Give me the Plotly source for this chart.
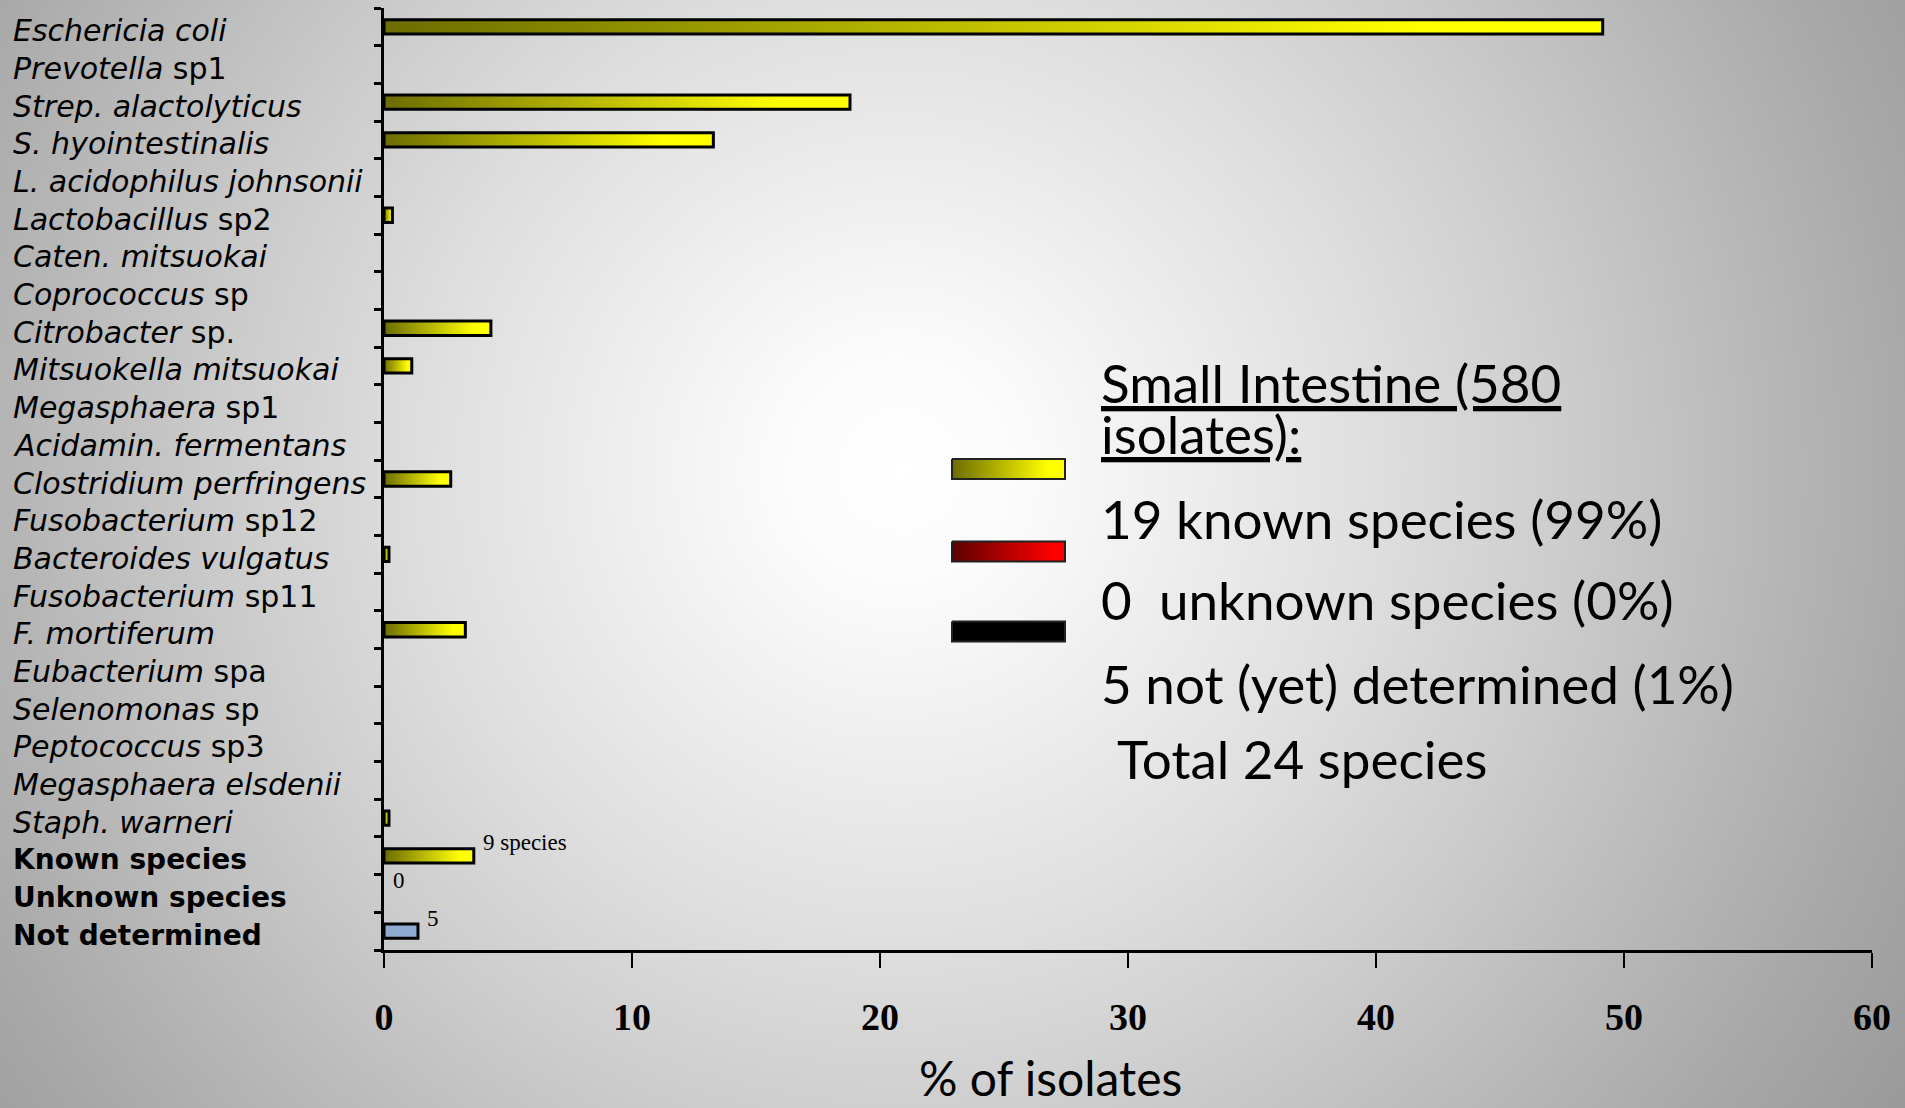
import base64
import plotly.graph_objects as go

# ---- data -----------------------------------------------------------------
species_labels = [
    "<i>Eschericia coli</i>", "<i>Prevotella</i> sp1", "<i>Strep. alactolyticus</i>",
    "<i>S. hyointestinalis</i>", "<i>L. acidophilus johnsonii</i>", "<i>Lactobacillus</i> sp2",
    "<i>Caten. mitsuokai</i>", "<i>Coprococcus</i> sp", "<i>Citrobacter</i> sp.",
    "<i>Mitsuokella mitsuokai</i>", "<i>Megasphaera</i> sp1", "<i>Acidamin. fermentans</i>",
    "<i>Clostridium perfringens</i>", "<i>Fusobacterium</i> sp12", "<i>Bacteroides vulgatus</i>",
    "<i>Fusobacterium</i> sp11", "<i>F. mortiferum</i>", "<i>Eubacterium</i> spa",
    "<i>Selenomonas</i> sp", "<i>Peptococcus</i> sp3", "<i>Megasphaera elsdenii</i>",
    "<i>Staph. warneri</i>",
]
species_pct = [49.14, 0, 18.79, 13.28, 0, 0.34, 0, 0, 4.31, 1.12, 0, 0,
               2.69, 0, 0.2, 0, 3.28, 0, 0, 0, 0, 0.2]

summary_labels = ["<b>Known species</b>", "<b>Unknown species</b>", "<b>Not determined</b>"]
summary_pct = [3.62, 0, 1.37]
summary_text = ["9 species", "0", "5"]

legend_title = ["<u>Small Intestine (580</u>", "<u>isolates):</u>"]
legend_lines = ["19 known species (99%)", "0\u00a0 unknown species (0%)",
                "5 not (yet) determined (1%)", "Total 24 species"]

x_ticks = [0, 10, 20, 30, 40, 50, 60]

# ---- geometry of the page -------------------------------------------------
W, H = 1905, 1108
ML, MR, MT, MB = 384, 33, 8, 158
PW, PH = W - ML - MR, H - MT - MB


def px_x(px):
    return (px - ML) / PW


def px_y(py):
    return (H - MB - py) / PH


OLIVE_YELLOW = [[0, "#6c6c00"], [0.85, "#ffff00"], [1, "#ffff00"]]
DARK_RED = [[0, "#5e0000"], [0.9, "#ff0000"], [1, "#ff0000"]]
HALF = 0.19

fig = go.Figure()

all_labels = species_labels + summary_labels
all_pct = species_pct + summary_pct
n_rows = len(all_labels)

# bars drawn as filled outlines so each one can carry its own gradient
for i, v in enumerate(all_pct):
    if v <= 0:
        continue
    xs = [0, v, v, 0, 0]
    ys = [i - HALF, i - HALF, i + HALF, i + HALF, i - HALF]
    if i == n_rows - 1:
        fill_kw = dict(fillcolor="#8eaad0")
    else:
        fill_kw = dict(fillgradient=dict(type="horizontal", colorscale=OLIVE_YELLOW))
    fig.add_trace(go.Scatter(
        x=xs, y=ys, mode="lines", fill="toself",
        line=dict(color="black", width=3), hoverinfo="skip", showlegend=False,
        **fill_kw))

# legend swatches on an overlay of paper-sized axes
swatch_rows = [469, 551.5, 631.5]
swatch_fill = [dict(fillgradient=dict(type="horizontal", colorscale=OLIVE_YELLOW)),
               dict(fillgradient=dict(type="horizontal", colorscale=DARK_RED)),
               dict(fillcolor="black")]
x0, x1 = px_x(952), px_x(1065)
for yc, fk in zip(swatch_rows, swatch_fill):
    y0, y1 = px_y(yc - 10), px_y(yc + 10)
    fig.add_trace(go.Scatter(
        x=[x0, x1, x1, x0, x0], y=[y0, y0, y1, y1, y0], xaxis="x2", yaxis="y2",
        mode="lines", fill="toself", line=dict(color="#222222", width=2),
        hoverinfo="skip", showlegend=False, **fk))

annotations = []
for i, lab in enumerate(all_labels):
    bold = i >= len(species_labels)
    annotations.append(dict(
        text=lab, xref="paper", yref="y", x=px_x(11), y=i, xanchor="left",
        yanchor="middle", yshift=-4, showarrow=False,
        font=dict(family="DejaVu Sans", size=28 if bold else 30, color="black")))

# value captions at the ends of the summary bars
sum_rows = list(range(len(species_labels), n_rows))
for v, r, t in zip(summary_pct, sum_rows, summary_text):
    annotations.append(dict(
        text=t, xref="x", yref="y", x=v, y=r, xanchor="left", yanchor="middle",
        xshift=7, yshift=13, showarrow=False,
        font=dict(family="Liberation Serif", size=23, color="black")))

title_y = [382, 433]
for t, yc in zip(legend_title, title_y):
    annotations.append(dict(
        text=t, xref="paper", yref="paper", x=px_x(1099), y=px_y(yc),
        xanchor="left", yanchor="middle", showarrow=False,
        font=dict(family="Lato", size=53, color="black")))

line_pos = [(1099, 518), (1099, 599), (1099, 683), (1115, 758)]
for t, (xp, yc) in zip(legend_lines, line_pos):
    annotations.append(dict(
        text=t, xref="paper", yref="paper", x=px_x(xp), y=px_y(yc),
        xanchor="left", yanchor="middle", showarrow=False,
        font=dict(family="Lato", size=53, color="black")))

annotations.append(dict(
    text="% of isolates", xref="paper", yref="paper", x=px_x(1050), y=px_y(1108),
    xanchor="center", yanchor="bottom", showarrow=False,
    font=dict(family="Lato", size=48, color="black")))

# soft radial grey backdrop
svg = (
    f'<svg xmlns="http://www.w3.org/2000/svg" width="{W}" height="{H}">'
    '<defs><radialGradient id="g" gradientUnits="userSpaceOnUse" cx="900" cy="470" r="1200">'
    '<stop offset="0" stop-color="#ffffff"/>'
    '<stop offset="0.1" stop-color="#fbfbfb"/>'
    '<stop offset="0.4" stop-color="#dedede"/>'
    '<stop offset="0.55" stop-color="#cdcdcd"/>'
    '<stop offset="0.75" stop-color="#b4b4b4"/>'
    '<stop offset="0.85" stop-color="#a8a8a8"/>'
    '<stop offset="1" stop-color="#999999"/>'
    '</radialGradient></defs>'
    f'<rect width="{W}" height="{H}" fill="url(#g)"/></svg>'
)
bg_uri = "data:image/svg+xml;base64," + base64.b64encode(svg.encode()).decode()

fig.update_layout(
    width=W, height=H, autosize=False,
    margin=dict(l=ML, r=MR, t=MT, b=MB, pad=0),
    paper_bgcolor="#b8b8b8", plot_bgcolor="rgba(0,0,0,0)",
    showlegend=False,
    images=[dict(source=bg_uri, xref="paper", yref="paper",
                 x=-ML / PW, y=1 + MT / PH, sizex=W / PW, sizey=H / PH,
                 xanchor="left", yanchor="top", sizing="stretch", layer="below")],
    xaxis=dict(range=[0, 60], tickvals=x_ticks, ticks="outside", ticklen=15,
               tickwidth=1.5, tickcolor="black", showline=True, linecolor="black",
               linewidth=3, showgrid=False, zeroline=False, fixedrange=True,
               ticklabelstandoff=16,
               tickfont=dict(family="Liberation Serif", size=38, color="black",
                             weight="bold")),
    yaxis=dict(range=[n_rows - 0.5, -0.5],
               tickvals=[k - 0.5 for k in range(n_rows + 1)], ticks="outside",
               ticklen=7, tickwidth=3, tickcolor="black", showticklabels=False,
               showline=True, linecolor="black", linewidth=3, showgrid=False,
               zeroline=False, fixedrange=True),
    xaxis2=dict(range=[0, 1], overlaying="x", visible=False, fixedrange=True),
    yaxis2=dict(range=[0, 1], overlaying="y", visible=False, fixedrange=True),
    annotations=annotations,
)

fig.write_html("out.html")
